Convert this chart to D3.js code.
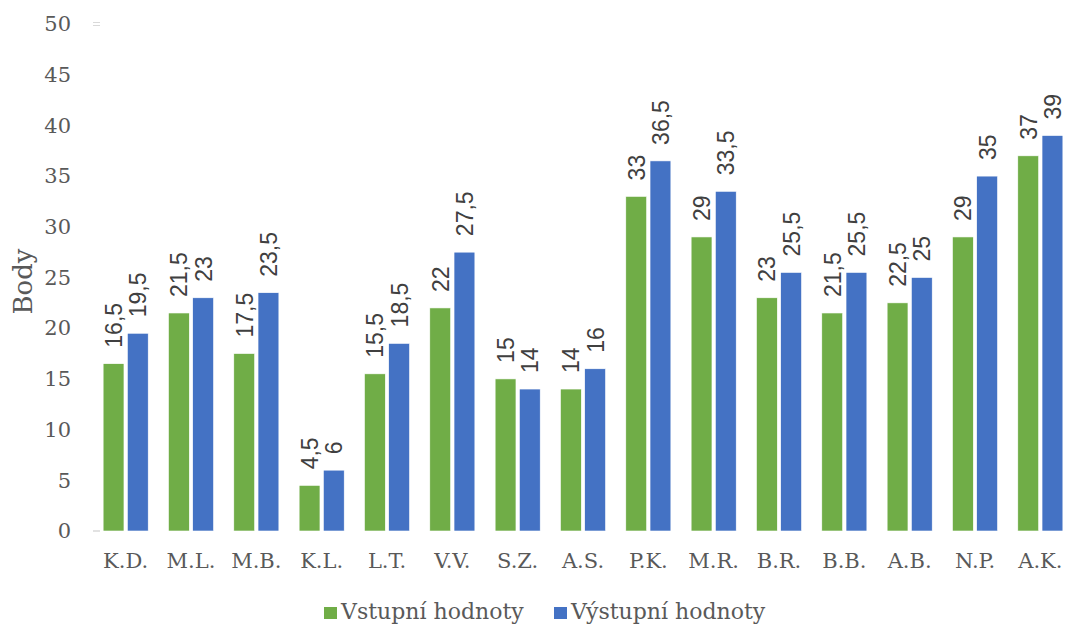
<!DOCTYPE html>
<html>
<head>
<meta charset="utf-8">
<script src="https://cdn.jsdelivr.net/npm/d3@7"></script>
<style>
  html, body { margin: 0; padding: 0; background: #fff; }
  svg { display: block; }
</style>
</head>
<body>
<svg id="chart" width="1067" height="624"></svg>
<script>
// Student scores before and after
const categories = ["K.D.", "M.L.", "M.B.", "K.L.", "L.T.", "V.V.", "S.Z.", "A.S.", "P.K.", "M.R.", "B.R.", "B.B.", "A.B.", "N.P.", "A.K."];
const vstupni = [16.5, 21.5, 17.5, 4.5, 15.5, 22, 15, 14, 33, 29, 23, 21.5, 22.5, 29, 37];
const vystupni = [19.5, 23, 23.5, 6, 18.5, 27.5, 14, 16, 36.5, 33.5, 25.5, 25.5, 25, 35, 39];
const seriesNames = ["Vstupní hodnoty", "Výstupní hodnoty"];
const seriesColors = ["#70AD47", "#4472C4"];
const yTicks = [0, 5, 10, 15, 20, 25, 30, 35, 40, 45, 50];

const serif = "'DejaVu Serif', Georgia, serif";
const sans = "'Liberation Sans', Arial, sans-serif";
const textColor = "#595959";

const svg = d3.select("#chart");
const plot = { left: 93, right: 1073, top: 24, bottom: 531 };

const x = d3.scaleBand().domain(categories).range([plot.left, plot.right]).paddingInner(0.31).paddingOuter(0.155);
const xs = d3.scaleBand().domain(seriesNames).range([0, x.bandwidth()]).paddingInner(0.14);
const y = d3.scaleLinear().domain([0, 50]).range([plot.bottom, plot.top]);

const fmt = v => String(v).replace(".", ",");

// Y axis labels and small tick marks
const yAxis = svg.append("g").attr("transform", `translate(${plot.left},0)`)
  .call(d3.axisLeft(y).tickValues(yTicks).tickSize(0).tickPadding(22).tickFormat(d => d));
yAxis.select(".domain").remove();
yAxis.selectAll("text").attr("font-family", serif).attr("font-size", 21).attr("fill", textColor);

svg.append("line").attr("x1", plot.left).attr("x2", plot.left + 7)
  .attr("y1", y(0)).attr("y2", y(0)).attr("stroke", "#d9d9d9").attr("stroke-width", 1.5);
[y(50) - 1.5, y(50) + 1.5].forEach(yy => svg.append("line")
  .attr("x1", plot.left).attr("x2", plot.left + 7).attr("y1", yy).attr("y2", yy)
  .attr("stroke", "#d9d9d9").attr("stroke-width", 1));

// X axis labels
const xAxis = svg.append("g").attr("transform", `translate(0,${plot.bottom})`)
  .call(d3.axisBottom(x).tickSize(0).tickPadding(0));
xAxis.select(".domain").remove();
xAxis.selectAll("text").attr("dy", null).attr("y", 37)
  .attr("font-family", serif).attr("font-size", 21).attr("fill", textColor);

// Y axis title
svg.append("text").attr("transform", `translate(32,${(plot.top + plot.bottom) / 2 + 4}) rotate(-90)`)
  .attr("text-anchor", "middle").attr("font-family", serif).attr("font-size", 26).attr("fill", textColor)
  .text("Body");

// Bars
const rows = categories.map((c, i) => ({ c, vals: [vstupni[i], vystupni[i]] }));
const groups = svg.append("g").selectAll("g").data(rows).join("g")
  .attr("transform", d => `translate(${x(d.c)},0)`);

groups.selectAll("rect").data(d => d.vals.map((v, k) => ({ v, k }))).join("rect")
  .attr("x", d => xs(seriesNames[d.k]))
  .attr("width", xs.bandwidth())
  .attr("y", d => y(d.v))
  .attr("height", d => y(0) - y(d.v))
  .attr("fill", d => seriesColors[d.k])
  .attr("stroke", "#ffffff").attr("stroke-width", 0.6);

// Value labels (rotated)
groups.selectAll("text.val").data(d => d.vals.map((v, k) => ({ v, k }))).join("text")
  .attr("class", "val")
  .attr("transform", d => `translate(${xs(seriesNames[d.k]) + xs.bandwidth() / 2 + 8.5},${y(d.v) - 16}) rotate(-90)`)
  .attr("text-anchor", "start")
  .attr("font-family", sans).attr("font-size", 23).attr("fill", "#404040")
  .text(d => fmt(d.v));

// Legend
const legend = svg.append("g");
const legendItems = [{ name: seriesNames[0], color: seriesColors[0], x: 324 }, { name: seriesNames[1], color: seriesColors[1], x: 554 }];
legendItems.forEach(it => {
  legend.append("rect").attr("x", it.x).attr("y", 607).attr("width", 13).attr("height", 12).attr("fill", it.color);
  legend.append("text").attr("x", it.x + 17).attr("y", 619).attr("font-family", serif).attr("font-size", 22)
    .attr("fill", textColor).text(it.name);
});
</script>
</body>
</html>
